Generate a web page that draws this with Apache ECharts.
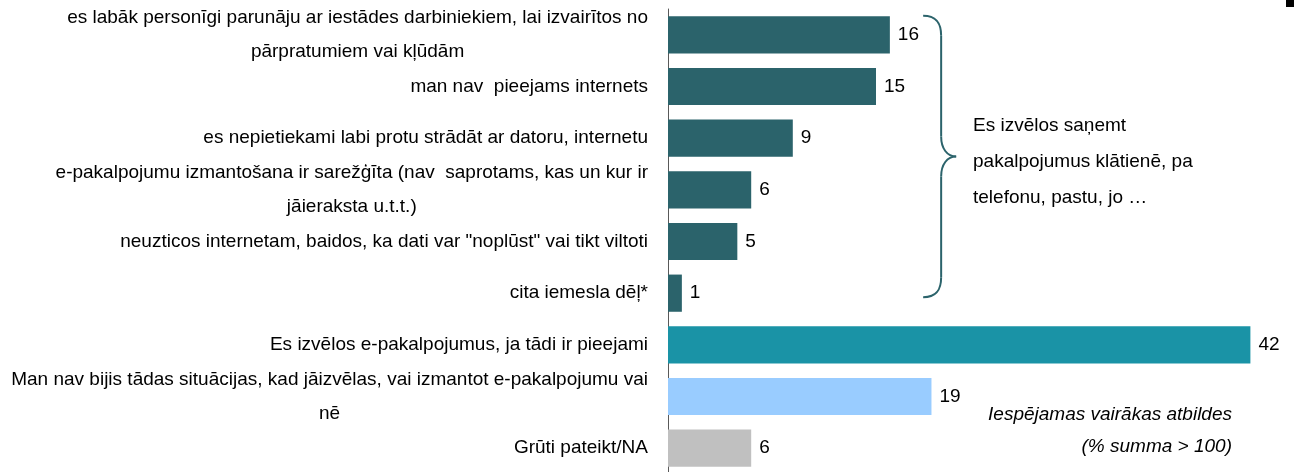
<!DOCTYPE html>
<html>
<head>
<meta charset="utf-8">
<script src="https://cdn.jsdelivr.net/npm/echarts@6/dist/echarts.min.js"></script>
<style>
  html, body { margin: 0; padding: 0; background: #fff; }
  #chart { width: 1295px; height: 472px; }
</style>
</head>
<body>
<div id="chart"></div>
<script>
// categories top to bottom, '\n' marks where the original label wraps
const categories = [
  'es labāk personīgi parunāju ar iestādes darbiniekiem, lai izvairītos no\npārpratumiem vai kļūdām',
  'man nav  pieejams internets',
  'es nepietiekami labi protu strādāt ar datoru, internetu',
  'e-pakalpojumu izmantošana ir sarežģīta (nav  saprotams, kas un kur ir\njāieraksta u.t.t.)',
  'neuzticos internetam, baidos, ka dati var "noplūst" vai tikt viltoti',
  'cita iemesla dēļ*',
  'Es izvēlos e-pakalpojumus, ja tādi ir pieejami',
  'Man nav bijis tādas situācijas, kad jāizvēlas, vai izmantot e-pakalpojumu vai\nnē',
  'Grūti pateikt/NA'
]
const values = [16, 15, 9, 6, 5, 1, 42, 19, 6]
const barColors = ['#2b636b', '#2b636b', '#2b636b', '#2b636b', '#2b636b', '#2b636b', '#1a93a6', '#99ccff', '#c0c0c0']
const braceText = 'Es izvēlos saņemt\npakalpojumus klātienē, pa\ntelefonu, pastu, jo …'
const noteText = 'Iespējamas vairākas atbildes\n(% summa > 100)'

const font = "'Liberation Sans', Arial, sans-serif"

const myChart = echarts.init(document.getElementById('chart'))

myChart.setOption({
  animation: false,
  grid: {
    left: 668,
    top: 9,
    width: 624,
    height: 465,
    containLabel: false,
    outerBoundsMode: 'none'
  },
  xAxis: {
    type: 'value',
    min: 0,
    max: 45,
    show: false
  },
  yAxis: {
    type: 'category',
    inverse: true,
    data: categories,
    axisLine: {
      lineStyle: { color: '#595959', width: 1 }
    },
    axisTick: {
      length: 8,
      lineStyle: { color: '#808080' }
    },
    axisLabel: {
      margin: 20,
      color: '#000',
      fontFamily: font,
      fontSize: 19,
      lineHeight: 34,
      formatter: function (v) {
        return v.split('\n').map(s => '{c|' + s + '}').join('\n')
      },
      rich: {
        c: {
          align: 'center',
          color: '#000',
          fontFamily: font,
          fontSize: 19,
          lineHeight: 34
        }
      }
    }
  },
  series: [{
    type: 'bar',
    barCategoryGap: '28%',
    data: values.map((v, i) => ({ value: v, itemStyle: { color: barColors[i] } })),
    label: {
      show: true,
      position: 'right',
      distance: 8,
      color: '#000',
      fontFamily: font,
      fontSize: 19
    }
  }]
})

// brace spanning the first six bars, placed from the axis scale
const braceTop = myChart.convertToPixel({ yAxisIndex: 0 }, 0) - 19
const braceBottom = myChart.convertToPixel({ yAxisIndex: 0 }, 5) + 4
const xL = myChart.convertToPixel({ xAxisIndex: 0 }, 18.4)
const xM = xL + 18
const xT = xL + 33
const mid = (braceTop + braceBottom) / 2
const braceStyle = { fill: null, stroke: '#2b636b', lineWidth: 2 }

function curve (x1, y1, c1x, c1y, c2x, c2y, x2, y2) {
  return {
    type: 'bezierCurve',
    shape: { x1: x1, y1: y1, cpx1: c1x, cpy1: c1y, cpx2: c2x, cpy2: c2y, x2: x2, y2: y2 },
    style: braceStyle
  }
}
function seg (x1, y1, x2, y2) {
  return { type: 'line', shape: { x1: x1, y1: y1, x2: x2, y2: y2 }, style: braceStyle }
}

myChart.setOption({
  graphic: [
    curve(xL, braceTop, xM - 4, braceTop, xM, braceTop + 8, xM, braceTop + 20),
    seg(xM, braceTop + 20, xM, mid - 20),
    curve(xM, mid - 20, xM, mid - 8, xM + 6, mid, xT, mid),
    curve(xT, mid, xM + 6, mid, xM, mid + 8, xM, mid + 20),
    seg(xM, mid + 20, xM, braceBottom - 20),
    curve(xM, braceBottom - 20, xM, braceBottom - 8, xM - 4, braceBottom, xL, braceBottom),
    {
      type: 'text',
      x: 973,
      y: 108,
      style: {
        text: braceText,
        font: '19px ' + font,
        lineHeight: 36,
        fill: '#000'
      }
    },
    {
      type: 'text',
      x: 1232,
      y: 399,
      style: {
        text: noteText,
        font: 'italic 19px ' + font,
        lineHeight: 32,
        align: 'right',
        fill: '#000'
      }
    },
    {
      type: 'rect',
      shape: { x: 1286, y: 0, width: 8, height: 7 },
      style: { fill: '#000' }
    }
  ]
})
</script>
</body>
</html>
